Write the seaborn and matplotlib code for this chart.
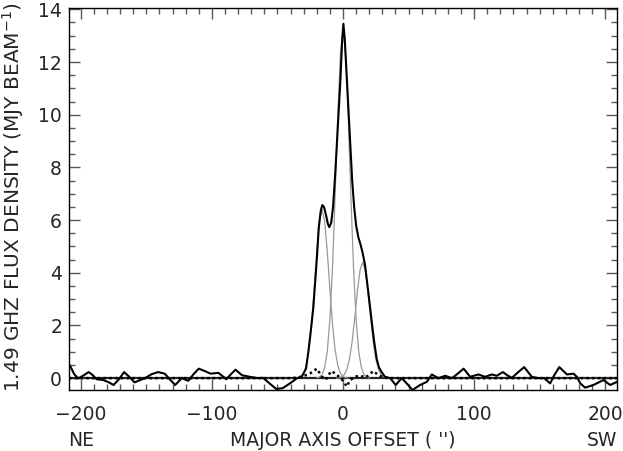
import matplotlib
matplotlib.use("Agg")
import matplotlib.pyplot as plt
from matplotlib.ticker import MultipleLocator
import pandas as pd
import seaborn as sns

# observed 1.49 GHz profile along the major axis (offset in arcsec, flux in mJy/beam)
profile_offset = [
    -209, -207, -205, -202, -198, -194, -191, -188, -183, -179, -175, -171, -167, -163,
    -159, -155, -151, -146, -141, -136, -132, -128, -123, -118, -114, -110, -105,
    -101, -95, -89, -85.5, -82, -77, -71, -65, -61, -56, -51, -46, -40.5, -35,
    -31.5, -28.2, -26.5, -25, -22.7, -20, -18.5, -17, -15.8, -14.5, -13, -11.5,
    -10.4, -9, -7.6, -6, -4, -2, -0.7, 0.3, 1.3, 3, 5, 7, 8.5, 10, 11.7, 13.5,
    15, 16.8, 19.3, 21.9, 23.7, 25.7, 27.5, 29.5, 32, 36, 40.2, 44.8, 48.6, 53,
    58.8, 64, 67.7, 72.8, 78, 83, 87, 92, 97, 103.3, 108.4, 113.5, 117.3, 122,
    125, 128.8, 133, 138.2, 144, 149, 153.4, 158, 161, 165, 170.8, 175.8, 178.4,
    181, 184.7, 191, 198.7, 203.8, 209,
]
profile_flux = [
    0.54, 0.35, 0.15, -0.01, 0.1, 0.23, 0.12, -0.04, -0.07, -0.15, -0.26, -0.05, 0.23, 0.05,
    -0.16, -0.08, 0.0, 0.15, 0.23, 0.17, -0.05, -0.26, 0.0, -0.1, 0.15, 0.36, 0.26,
    0.17, 0.2, -0.04, 0.15, 0.32, 0.11, 0.05, 0.0, 0.01, -0.2, -0.41, -0.38, -0.2, 0.0,
    0.05, 0.36, 0.98, 1.6, 2.64, 4.5, 5.7, 6.35, 6.57, 6.5, 6.2, 5.85,
    5.73, 5.9, 6.5, 7.7, 9.5, 11.3, 12.8, 13.45, 12.9, 11.3, 9.4, 7.5, 6.5, 5.8, 5.35, 5.05,
    4.75, 4.3, 3.26, 2.15, 1.41, 0.73, 0.4, 0.23, 0.05, 0.0, -0.26, 0.0, -0.2, -0.45,
    -0.26, -0.14, 0.14, 0.0, 0.09, 0.0, 0.15, 0.36, 0.05, 0.14, 0.05, 0.14, 0.09, 0.23,
    0.12, 0.01, 0.2, 0.42, 0.05, 0.0, 0.0, -0.2, 0.1, 0.42, 0.14, 0.17, 0.05,
    -0.2, -0.36, -0.26, -0.07, -0.26, -0.14,
]

# fitted components
comp1_offset = [-36, -34, -32, -30, -28, -26, -24, -22, -20, -18, -16, -14, -12, -10, -8, -6, -4, -2, 0, 2, 4]
comp1_flux = [0.0, 0.02, 0.06, 0.19, 0.48, 1.07, 2.04, 3.37, 4.81, 5.96, 6.4, 5.96, 4.81, 3.37, 2.04, 1.07, 0.48, 0.19, 0.06, 0.02, 0.0]
comp2_offset = [-20, -18, -16, -14, -12, -10, -8, -6, -4, -2, 0, 2, 4, 6, 8, 10, 12, 14, 16, 18, 20]
comp2_flux = [0.01, 0.04, 0.14, 0.4, 1.01, 2.22, 4.21, 6.94, 9.91, 12.29, 13.2, 12.29, 9.91, 6.94, 4.21, 2.22, 1.01, 0.4, 0.14, 0.04, 0.01]
comp3_offset = [-5, -3, -1, 1, 3, 5, 7, 9, 11, 13, 15, 17, 19, 21, 23, 25, 27, 29, 31, 33, 35]
comp3_flux = [0.0, 0.01, 0.05, 0.13, 0.34, 0.74, 1.4, 2.31, 3.3, 4.1, 4.4, 4.1, 3.3, 2.31, 1.4, 0.74, 0.34, 0.13, 0.05, 0.01, 0.0]

# residuals (profile minus fit), dotted
resid_offset = [-209, -40, -35, -30, -25, -20, -16, -13, -9, -6, -3, 0, 3, 5, 9, 13, 17, 20, 23, 27, 31, 35, 40, 209]
resid_flux = [0.0, 0.0, 0.02, 0.08, 0.18, 0.36, 0.05, -0.05, 0.27, 0.18, 0.05, -0.1, -0.32, -0.1, 0.05, 0.1, 0.02, 0.12, 0.27, 0.12, 0.02, 0.0, 0.0, 0.0]

x_ticks = [-200, -100, 0, 100, 200]
x_tick_labels = ["\u2212200", "\u2212100", "0", "100", "200"]
y_ticks = [0, 2, 4, 6, 8, 10, 12, 14]


def main() -> None:
    sns.set_theme(style="ticks")
    plt.rcParams["font.family"] = ["DejaVu Sans"]

    fig = plt.figure(figsize=(6.23, 4.51), dpi=100)
    # top edge pulled in a few pixels so the "14" label is not clipped
    ax = fig.add_axes([69 / 623, 61 / 451, 548 / 623, 382 / 451])

    ax.axhline(0, color="0.15", lw=1.6, zorder=1)
    for xs, ys in [(comp1_offset, comp1_flux), (comp2_offset, comp2_flux), (comp3_offset, comp3_flux)]:
        sns.lineplot(data=pd.DataFrame({"x": xs, "y": ys}), x="x", y="y", ax=ax,
                     color="0.6", lw=0.9, sort=False, estimator=None, zorder=2)
    sns.lineplot(data=pd.DataFrame({"x": resid_offset, "y": resid_flux}), x="x", y="y", ax=ax,
                 color="black", lw=1.8, linestyle=(0, (1, 1.3)), sort=False, estimator=None, zorder=3)
    sns.lineplot(data=pd.DataFrame({"x": profile_offset, "y": profile_flux}), x="x", y="y", ax=ax,
                 color="black", lw=1.5, sort=False, estimator=None, zorder=4)

    ax.set_xlim(-209, 209)
    ax.set_ylim(-0.45, 14.05)
    ax.set_xticks(x_ticks)
    ax.set_yticks(y_ticks)
    ax.set_xticklabels(x_tick_labels)
    ax.xaxis.set_minor_locator(MultipleLocator(10))
    ax.yaxis.set_minor_locator(MultipleLocator(0.5))
    ax.tick_params(which="both", direction="in", top=True, right=True, color="0.35", width=1.0)
    ax.tick_params(which="major", length=8, labelsize=13.5)
    ax.tick_params(axis="x", which="major", pad=11)
    ax.tick_params(axis="y", which="major", pad=5)
    ax.tick_params(which="minor", length=4.5)
    for spine in ax.spines.values():
        spine.set_color("black")
        spine.set_linewidth(1.0)

    ax.set_xlabel("")
    ax.set_ylabel("")
    fig.text(343 / 623, 1 - 440 / 451, "MAJOR AXIS OFFSET ( '')", ha="center", va="center", fontsize=13.5)
    fig.text(68 / 623, 1 - 440 / 451, "NE", ha="left", va="center", fontsize=13.5)
    fig.text(617 / 623, 1 - 440 / 451, "SW", ha="right", va="center", fontsize=13.5)
    fig.text(13 / 623, 1 - 197 / 451, "1.49 GHZ FLUX DENSITY (MJY BEAM$^{-1}$)",
             rotation=90, ha="center", va="center", fontsize=14.5)

    fig.savefig("out.png", dpi=100)
    plt.close(fig)


if __name__ == "__main__":
    main()
